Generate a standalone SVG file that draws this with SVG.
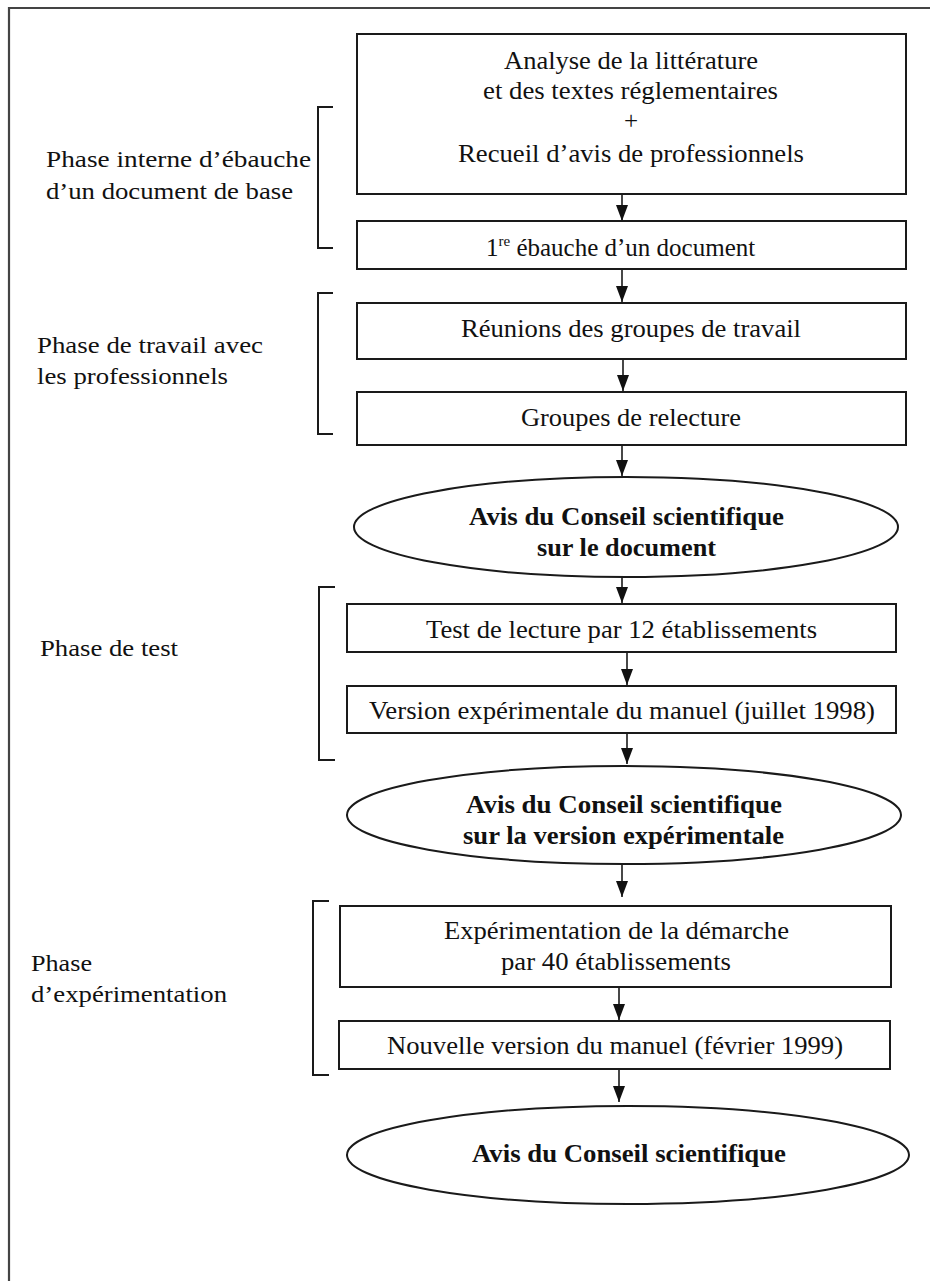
<svg xmlns="http://www.w3.org/2000/svg" width="930" height="1281" viewBox="0 0 930 1281">
<style>
  .box { fill: #ffffff; stroke: #1a1a1a; stroke-width: 2; }
  .ell { fill: #ffffff; stroke: #1a1a1a; stroke-width: 2; }
  .brk { fill: none; stroke: #1a1a1a; stroke-width: 2; }
  .t { font-family: "Liberation Serif", "Times New Roman", serif; font-size: 25px; fill: #111; }
  .b { font-family: "Liberation Serif", "Times New Roman", serif; font-size: 25px; font-weight: bold; fill: #111; }
  .l { font-family: "Liberation Serif", "Times New Roman", serif; font-size: 24px; fill: #111; }
  .c { fill: none; stroke: #1a1a1a; stroke-width: 1.6; }
</style>
<defs>
  <marker id="ah" viewBox="0 0 16 12" refX="16" refY="6" markerWidth="16" markerHeight="12" markerUnits="userSpaceOnUse" orient="auto">
    <path d="M0,0 L16,6 L0,12 z" fill="#111"/>
  </marker>
</defs>
<rect width="930" height="1281" fill="#ffffff"/>
<g id="frame">
  <path d="M9,1281 L9,8 L930,8" fill="none" stroke="#444" stroke-width="2.2"/>
</g>

<g id="phase1">
  <path class="brk" d="M333,107 L318,107 L318,248 L333,248"/>
  <text class="l" x="46" y="167" textLength="265" lengthAdjust="spacingAndGlyphs">Phase interne d’ébauche</text>
  <text class="l" x="46" y="199" textLength="247" lengthAdjust="spacingAndGlyphs">d’un document de base</text>
</g>
<g id="phase2">
  <path class="brk" d="M333,293 L318,293 L318,434 L333,434"/>
  <text class="l" x="37" y="353" textLength="226" lengthAdjust="spacingAndGlyphs">Phase de travail avec</text>
  <text class="l" x="37" y="384" textLength="191" lengthAdjust="spacingAndGlyphs">les professionnels</text>
</g>
<g id="phase3">
  <path class="brk" d="M335,587 L319,587 L319,760 L335,760"/>
  <text class="l" x="40" y="656" textLength="138" lengthAdjust="spacingAndGlyphs">Phase de test</text>
</g>
<g id="phase4">
  <path class="brk" d="M329,901 L313,901 L313,1075 L329,1075"/>
  <text class="l" x="31" y="971" textLength="61" lengthAdjust="spacingAndGlyphs">Phase</text>
  <text class="l" x="31" y="1002" textLength="196" lengthAdjust="spacingAndGlyphs">d’expérimentation</text>
</g>

<g id="connectors">
  <line class="c" x1="622" y1="193" x2="622" y2="221" marker-end="url(#ah)"/>
  <line class="c" x1="622" y1="269" x2="622" y2="302" marker-end="url(#ah)"/>
  <line class="c" x1="623" y1="359" x2="623" y2="391" marker-end="url(#ah)"/>
  <line class="c" x1="622" y1="445" x2="622" y2="476" marker-end="url(#ah)"/>
  <line class="c" x1="622" y1="577" x2="622" y2="603" marker-end="url(#ah)"/>
  <line class="c" x1="627" y1="652" x2="627" y2="685" marker-end="url(#ah)"/>
  <line class="c" x1="627" y1="733" x2="627" y2="764" marker-end="url(#ah)"/>
  <line class="c" x1="622" y1="864" x2="622" y2="897" marker-end="url(#ah)"/>
  <line class="c" x1="619" y1="987" x2="619" y2="1020" marker-end="url(#ah)"/>
  <line class="c" x1="619" y1="1069" x2="619" y2="1102" marker-end="url(#ah)"/>
</g>

<g id="n1">
  <rect class="box" x="357" y="34" width="549" height="160"/>
  <text class="t" x="504" y="69" textLength="254" lengthAdjust="spacingAndGlyphs">Analyse de la littérature</text>
  <text class="t" x="483" y="99" textLength="295" lengthAdjust="spacingAndGlyphs">et des textes réglementaires</text>
  <text class="t" x="631" y="129" text-anchor="middle">+</text>
  <text class="t" x="458" y="162" textLength="346" lengthAdjust="spacingAndGlyphs">Recueil d’avis de professionnels</text>
</g>
<g id="n2">
  <rect class="box" x="357" y="221" width="549" height="48"/>
  <text class="t" x="486" y="256">1<tspan font-size="15" dy="-10">re</tspan><tspan dy="10"> ébauche d’un document</tspan></text>
</g>
<g id="n3">
  <rect class="box" x="357" y="303" width="549" height="56"/>
  <text class="t" x="461" y="337" textLength="340" lengthAdjust="spacingAndGlyphs">Réunions des groupes de travail</text>
</g>
<g id="n4">
  <rect class="box" x="357" y="392" width="549" height="53"/>
  <text class="t" x="521" y="426" textLength="220" lengthAdjust="spacingAndGlyphs">Groupes de relecture</text>
</g>
<g id="n5">
  <ellipse class="ell" cx="626" cy="527" rx="272" ry="50"/>
  <text class="b" x="469" y="525" textLength="315" lengthAdjust="spacingAndGlyphs">Avis du Conseil scientifique</text>
  <text class="b" x="537" y="556" textLength="179" lengthAdjust="spacingAndGlyphs">sur le document</text>
</g>
<g id="n6">
  <rect class="box" x="347" y="604" width="549" height="48"/>
  <text class="t" x="426" y="638" textLength="391" lengthAdjust="spacingAndGlyphs">Test de lecture par 12 établissements</text>
</g>
<g id="n7">
  <rect class="box" x="347" y="686" width="549" height="47"/>
  <text class="t" x="369" y="719" textLength="506" lengthAdjust="spacingAndGlyphs">Version expérimentale du manuel (juillet 1998)</text>
</g>
<g id="n8">
  <ellipse class="ell" cx="624" cy="815" rx="277" ry="49"/>
  <text class="b" x="466" y="813" textLength="316" lengthAdjust="spacingAndGlyphs">Avis du Conseil scientifique</text>
  <text class="b" x="463" y="844" textLength="321" lengthAdjust="spacingAndGlyphs">sur la version expérimentale</text>
</g>
<g id="n9">
  <rect class="box" x="340" y="906" width="551" height="81"/>
  <text class="t" x="444" y="939" textLength="345" lengthAdjust="spacingAndGlyphs">Expérimentation de la démarche</text>
  <text class="t" x="501" y="970" textLength="230" lengthAdjust="spacingAndGlyphs">par 40 établissements</text>
</g>
<g id="n10">
  <rect class="box" x="339" y="1021" width="551" height="48"/>
  <text class="t" x="387" y="1054" textLength="456" lengthAdjust="spacingAndGlyphs">Nouvelle version du manuel (février 1999)</text>
</g>
<g id="n11">
  <ellipse class="ell" cx="628" cy="1155" rx="281" ry="49"/>
  <text class="b" x="472" y="1162" textLength="314" lengthAdjust="spacingAndGlyphs">Avis du Conseil scientifique</text>
</g>
</svg>
